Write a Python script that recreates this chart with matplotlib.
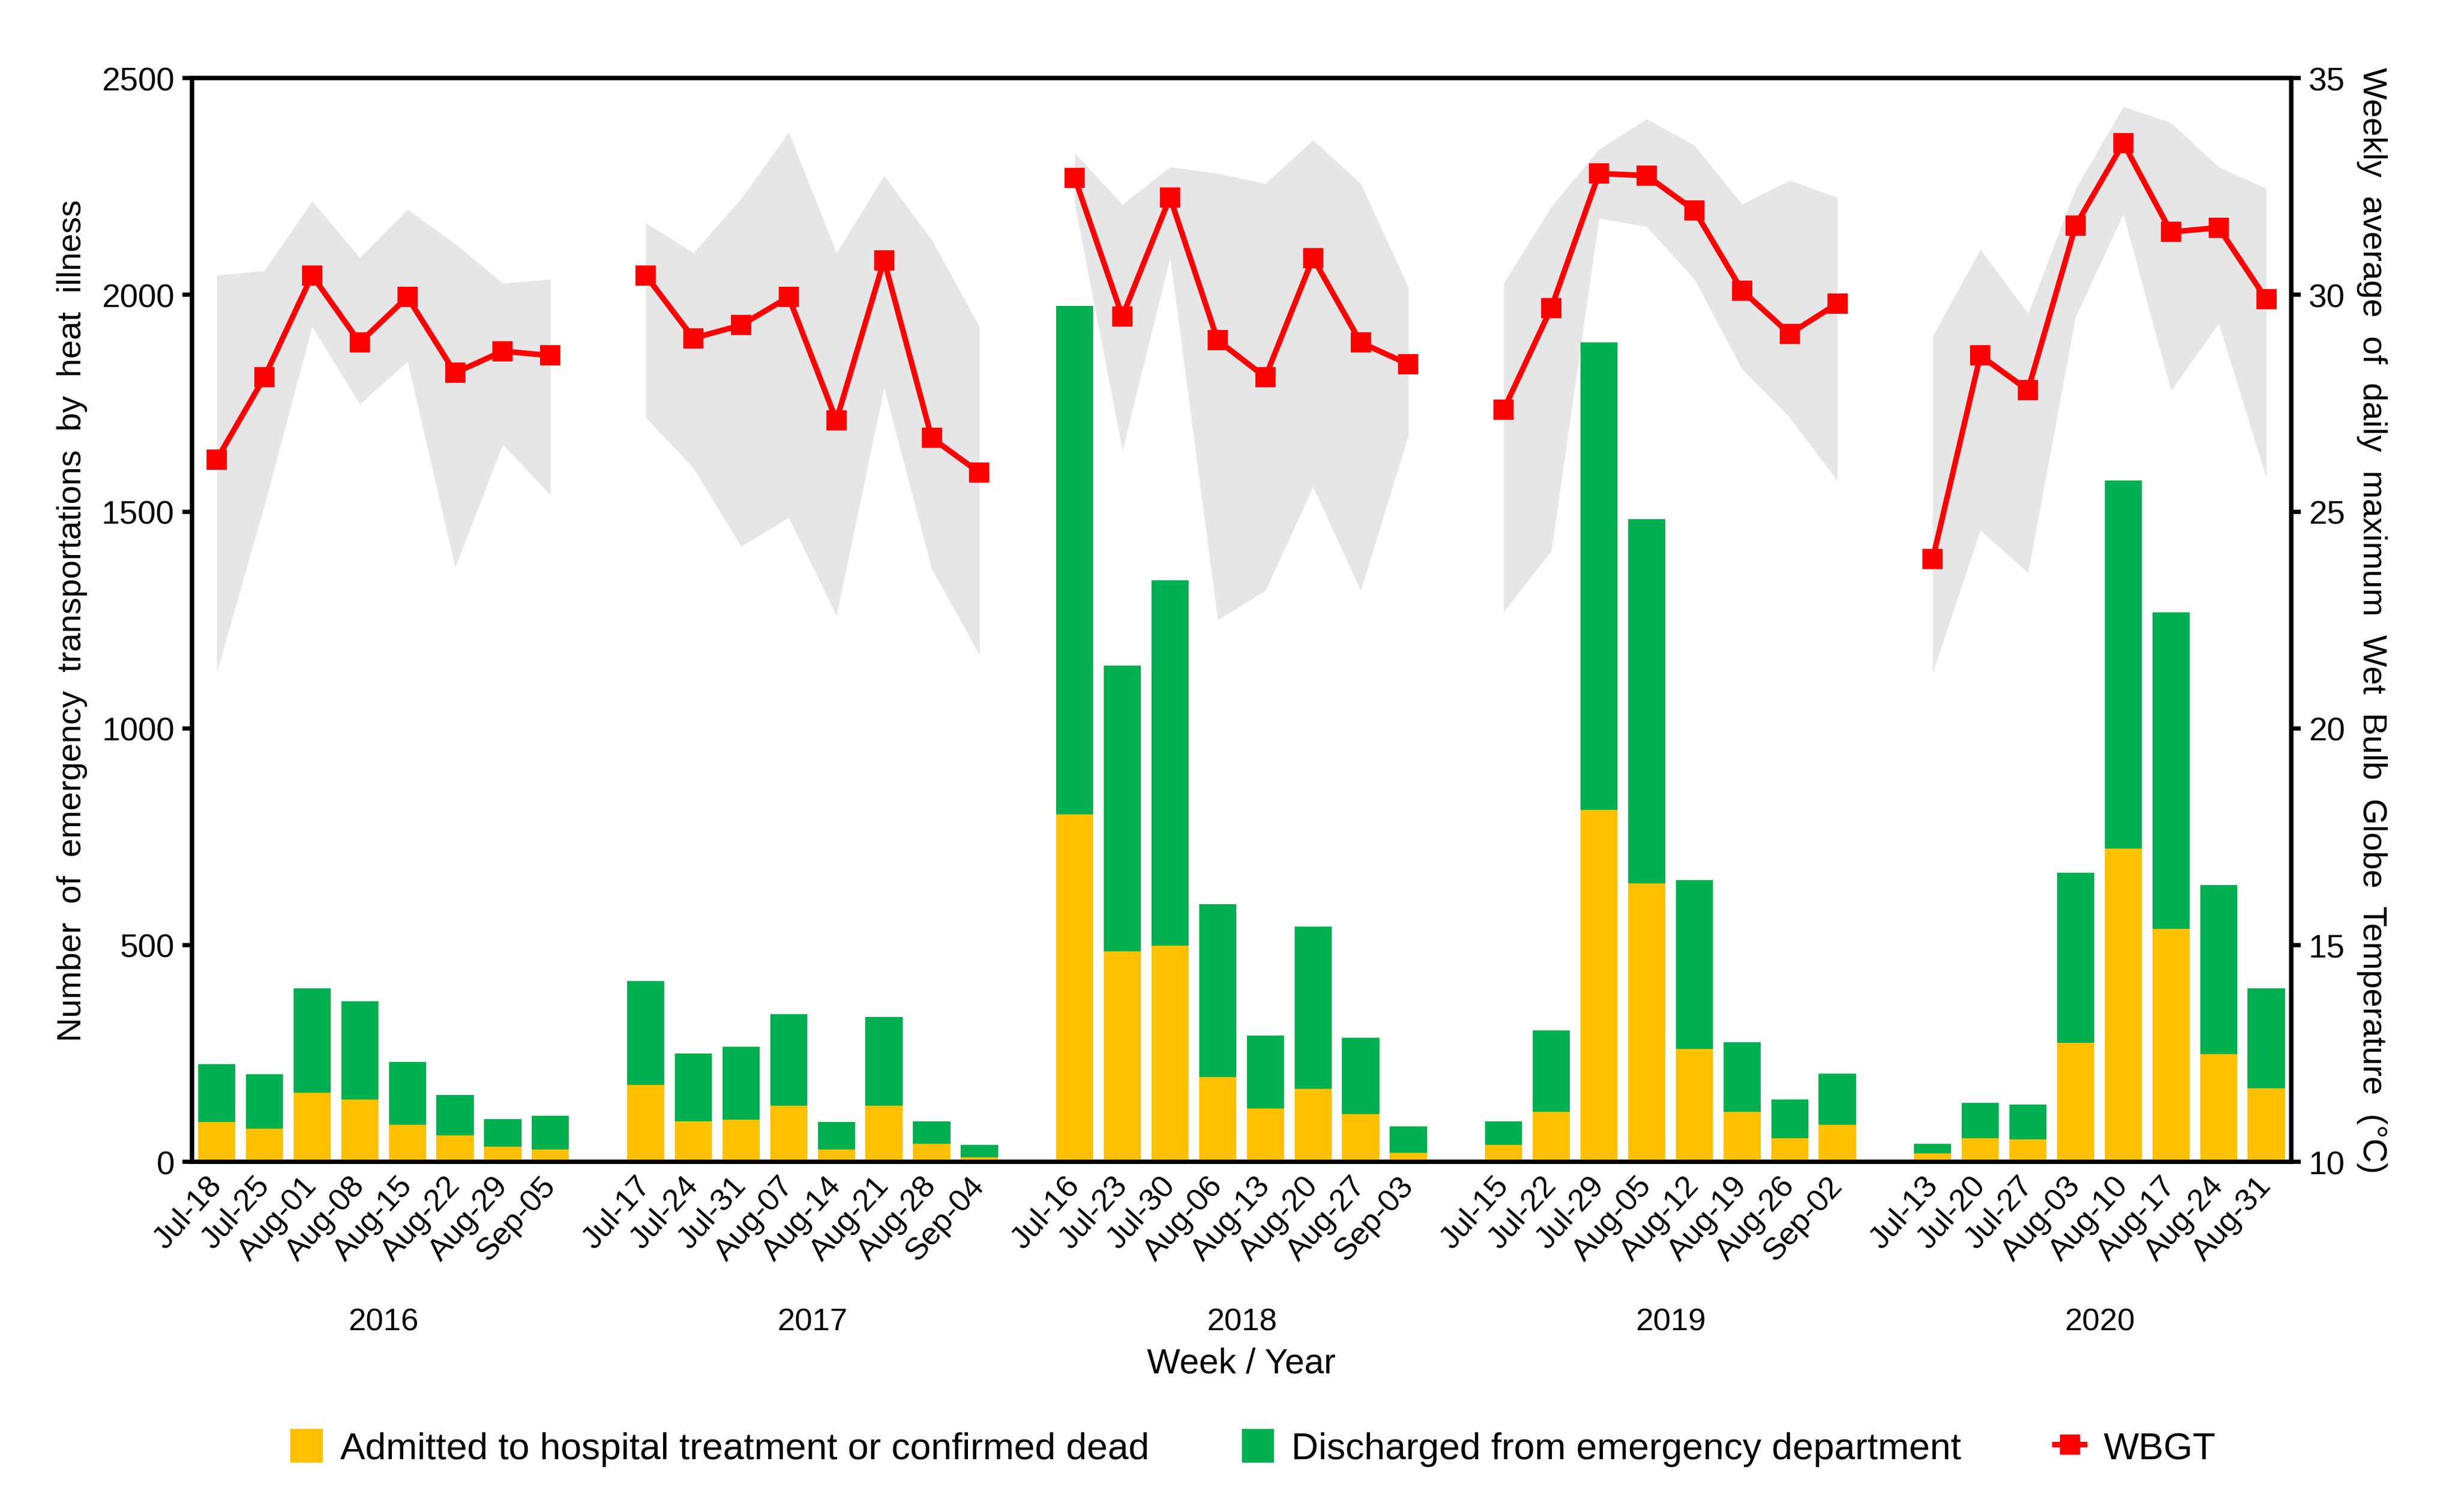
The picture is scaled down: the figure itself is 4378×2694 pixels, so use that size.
import numpy as np
import matplotlib
matplotlib.use('Agg')
import matplotlib.pyplot as plt
import matplotlib.transforms as mtransforms
from matplotlib.patches import Patch
from matplotlib.lines import Line2D

plt.rcParams['font.family'] = ['Liberation Sans', 'DejaVu Sans']

#-----------------------
# Data
#-----------------------

years = ['2016', '2017', '2018', '2019', '2020']

weeks_2016 = ['Jul-18', 'Jul-25', 'Aug-01', 'Aug-08', 'Aug-15', 'Aug-22', 'Aug-29', 'Sep-05']
weeks_2017 = ['Jul-17', 'Jul-24', 'Jul-31', 'Aug-07', 'Aug-14', 'Aug-21', 'Aug-28', 'Sep-04']
weeks_2018 = ['Jul-16', 'Jul-23', 'Jul-30', 'Aug-06', 'Aug-13', 'Aug-20', 'Aug-27', 'Sep-03']
weeks_2019 = ['Jul-15', 'Jul-22', 'Jul-29', 'Aug-05', 'Aug-12', 'Aug-19', 'Aug-26', 'Sep-02']
weeks_2020 = ['Jul-13', 'Jul-20', 'Jul-27', 'Aug-03', 'Aug-10', 'Aug-17', 'Aug-24', 'Aug-31']

### Admitted to hospital treatment or confirmed dead
admitted_2016 = [92, 76, 160, 144, 86, 61, 35, 28]
admitted_2017 = [177, 94, 97, 129, 28, 129, 41, 11]
admitted_2018 = [802, 486, 499, 195, 123, 168, 110, 21]
admitted_2019 = [39, 115, 812, 642, 261, 115, 54, 86]
admitted_2020 = [19, 54, 52, 274, 723, 537, 249, 170]

### Discharged from emergency department
discharged_2016 = [133, 126, 240, 227, 144, 93, 64, 78]
discharged_2017 = [240, 156, 168, 212, 64, 205, 53, 28]
discharged_2018 = [1173, 658, 843, 399, 168, 375, 176, 61]
discharged_2019 = [55, 188, 1078, 840, 389, 161, 90, 117]
discharged_2020 = [22, 82, 80, 393, 849, 730, 390, 230]

### WBGT weekly mean and min/max range (C)
wbgt_2016 = [26.2, 28.1, 30.45, 28.9, 29.95, 28.2, 28.7, 28.6]
wbgt_2017 = [30.45, 29.0, 29.3, 29.95, 27.1, 30.8, 26.7, 25.9]
wbgt_2018 = [32.7, 29.5, 32.25, 28.95, 28.1, 30.85, 28.9, 28.4]
wbgt_2019 = [27.35, 29.7, 32.8, 32.75, 31.95, 30.1, 29.1, 29.8]
wbgt_2020 = [23.9, 28.6, 27.8, 31.6, 33.5, 31.45, 31.55, 29.9]

wbgt_hi_2016 = [30.45, 30.56, 32.16, 30.86, 31.97, 31.18, 30.27, 30.36]
wbgt_hi_2017 = [31.66, 30.97, 32.22, 33.75, 30.97, 32.75, 31.27, 29.27]
wbgt_hi_2018 = [33.27, 32.09, 32.95, 32.8, 32.57, 33.57, 32.57, 30.18]
wbgt_hi_2019 = [30.27, 32.04, 33.36, 34.06, 33.45, 32.09, 32.64, 32.25]
wbgt_hi_2020 = [29.05, 31.05, 29.57, 32.45, 34.34, 33.97, 32.95, 32.45]

wbgt_lo_2016 = [21.29, 25.15, 29.27, 27.48, 28.46, 23.71, 26.55, 25.38]
wbgt_lo_2017 = [27.17, 26.0, 24.2, 24.86, 22.6, 27.86, 23.68, 21.7]
wbgt_lo_2018 = [32.1, 26.41, 30.86, 22.5, 23.18, 25.57, 23.18, 26.76]
wbgt_lo_2019 = [22.69, 24.1, 31.77, 31.57, 30.36, 28.29, 27.17, 25.71]
wbgt_lo_2020 = [21.29, 24.57, 23.59, 29.5, 31.86, 27.79, 29.34, 25.78]

weeks = [weeks_2016, weeks_2017, weeks_2018, weeks_2019, weeks_2020]
admitted = [admitted_2016, admitted_2017, admitted_2018, admitted_2019, admitted_2020]
discharged = [discharged_2016, discharged_2017, discharged_2018, discharged_2019, discharged_2020]
wbgt = [wbgt_2016, wbgt_2017, wbgt_2018, wbgt_2019, wbgt_2020]
wbgt_hi = [wbgt_hi_2016, wbgt_hi_2017, wbgt_hi_2018, wbgt_hi_2019, wbgt_hi_2020]
wbgt_lo = [wbgt_lo_2016, wbgt_lo_2017, wbgt_lo_2018, wbgt_lo_2019, wbgt_lo_2020]

#-----------------------
# Style
#-----------------------

c_adm = '#FFC000'
c_dis = '#00B050'
c_wbgt = '#FF0000'
c_band = '#E6E6E6'
fs_tick, fs_ytick, fs_lab, fs_leg = 13.5, 14, 14.4, 16
lw_ax = 1.8
nweek = 8
gap = 1 # empty slot between years

#-----------------------
# Plot
#-----------------------

fig = plt.figure(figsize=(4378/300., 2695/300.), dpi=300)
ax = fig.add_axes([0.0781, 0.2315, 0.854, 0.7165])
ax2 = ax.twinx()

ax.set_zorder(ax2.get_zorder()+1) # bars in front of the grey range band
ax.patch.set_visible(False)

trans = mtransforms.blended_transform_factory(ax.transData, ax.transAxes)
xticks, xlabels = [], []
for g in range(len(years)):
    x = np.arange(nweek) + g*(nweek+gap)
    adm = np.array(admitted[g])
    dis = np.array(discharged[g])
    ax.bar(x, adm, width=0.78, color=c_adm, zorder=2)
    ax.bar(x, dis, width=0.78, bottom=adm, color=c_dis, zorder=2)
    ax2.fill_between(x, wbgt_lo[g], wbgt_hi[g], color=c_band, lw=0, zorder=1)
    ax2.plot(x, wbgt[g], color=c_wbgt, lw=2.4, marker='s', ms=7.5, zorder=3)
    xticks += list(x)
    xlabels += weeks[g]
    # year label under each group
    ax.text(x.mean(), -0.148, years[g], transform=trans, ha='center', va='center', fontsize=fs_tick)

ax.set_xlim([-0.52, len(years)*(nweek+gap)-gap-0.48])
ax.set_xticks(xticks)
ax.set_xticklabels(xlabels, rotation=48, ha='right', va='center', rotation_mode='anchor', fontsize=fs_tick)
ax.tick_params(axis='x', length=0, pad=8)

ax.set_ylim([0, 2500])
ax.set_yticks(np.arange(0, 2500+1, 500))
ax.tick_params(axis='y', labelsize=fs_ytick, length=4, width=lw_ax, direction='out')
ax.set_ylabel('Number  of  emergency  transportations  by  heat  illness', fontsize=fs_lab, labelpad=6)

ax2.set_ylim([10, 35])
ax2.set_yticks(np.arange(10, 35+1, 5))
ax2.tick_params(axis='y', labelsize=fs_ytick, length=4, width=lw_ax, direction='out')
ax2.set_ylabel('Weekly  average  of  daily  maximum  Wet  Bulb  Globe  Temperature  (°C)', fontsize=fs_lab, rotation=270, labelpad=18)

for a in [ax, ax2]:
    for s in a.spines.values():
        s.set_linewidth(lw_ax)

ax.text(0.5, -0.186, 'Week / Year', transform=ax.transAxes, ha='center', va='center', fontsize=fs_lab+0.6)

### Legend
handles = [Patch(color=c_adm), Patch(color=c_dis),
           Line2D([], [], color=c_wbgt, lw=2.4, marker='s', ms=7.5)]
labels = ['Admitted to hospital treatment or confirmed dead', 'Discharged from emergency department', 'WBGT']
fig.legend(handles, labels, loc='center', bbox_to_anchor=(0.51, 0.042), ncol=3, frameon=False,
           fontsize=fs_leg, handlelength=0.8, handleheight=0.9, handletextpad=0.5, columnspacing=2.5)

plt.savefig('out.png', dpi=300)
